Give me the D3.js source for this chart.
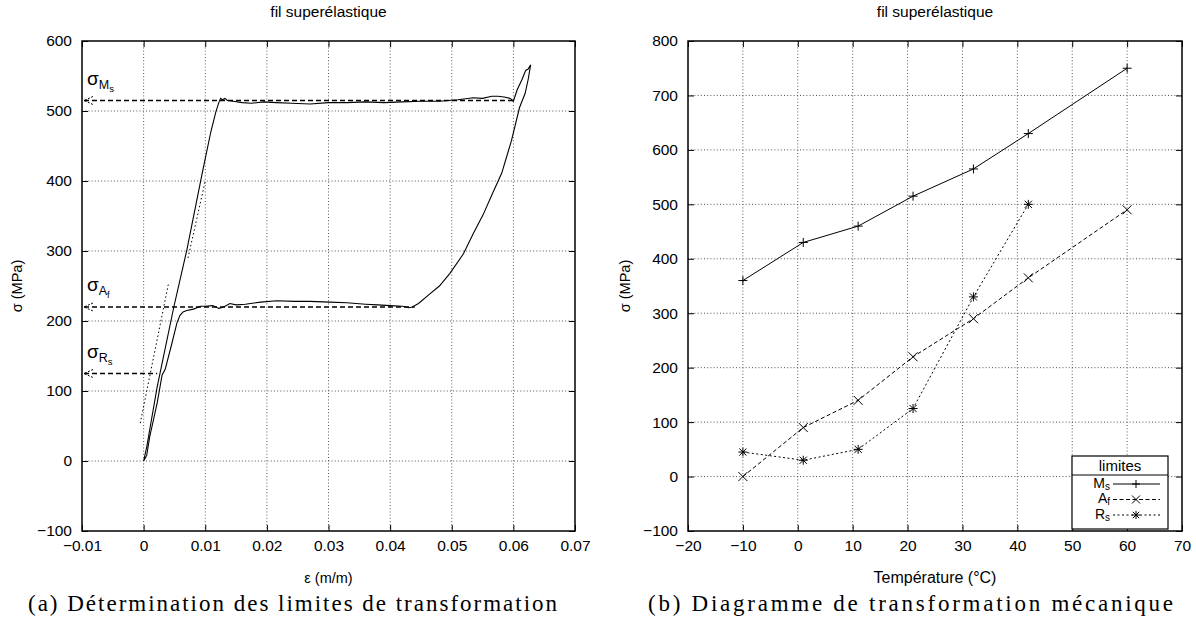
<!DOCTYPE html>
<html><head><meta charset="utf-8">
<script src="https://cdn.jsdelivr.net/npm/d3@7"></script>
<style>
body{margin:0;background:#fff}
text{font-family:"Liberation Sans",Arial,Helvetica,sans-serif;fill:#000}
.cap{font-family:"Liberation Serif","DejaVu Serif",serif}
</style>
</head><body>
<svg id="c" width="1196" height="625"></svg>
<script>
// ---------- Left chart data: stress-strain loop ----------
const loopStrain = [0,0.0005,0.0022,0.0049,0.0070,0.0095,0.0109,0.0117,0.0122,0.0125,0.0128,0.0132,0.0136,0.0145,0.0160,0.0175,0.0195,0.0215,0.0240,0.0270,0.0300,0.0330,0.0360,0.0390,0.0420,0.0450,0.0480,0.0510,0.0535,0.0550,0.0565,0.0575,0.0585,0.0595,0.0600,0.0606,0.0614,0.0620,0.0624,0.0628,
  0.0624,0.0619,0.0610,0.0597,0.0581,0.0565,0.0551,0.0535,0.0519,0.0497,0.0480,0.0465,0.0446,0.0436,0.0430,0.0420,0.0400,0.0380,0.0360,0.0330,0.0302,0.0270,0.0245,0.0216,0.0190,0.0165,0.0150,0.0140,0.0130,0.0122,0.0112,0.0100,0.0092,0.0081,0.0070,0.0064,0.0059,0.0054,0.0045,0.0035,0.0030,0.0022,0.0010,0.0005,0];
const loopStress = [0,20,106,220,301,411,470,498,512,518,516,518,515,514,512,511,513,512,511,510,512,512,513,512,513,514,514,516,519,518,521,521,520,518,514,530,545,558,560,566,
  545,525,505,458,411,380,352,325,296,268,250,239,225,220,219,221,222,223,224,226,227,228,228,229,227,224,223,225,220,218,222,221,221,217,215,213,208,197,165,131,123,83,35,8,0];
// limit levels (MPa) and the strain where each dashed line ends
const limitNames = ["Ms","Af","Rs"];
const limitStress = [515,220,125];
const limitEnd = [0.060,0.044,0.0022];
// dotted tangent lines [strain0, stress0, strain1, stress1]
const tangentA = [-0.00055,54,0.0040,252];
const tangentB = [0.0072,290,0.0100,400];
const leftXTicks = [-0.01,0,0.01,0.02,0.03,0.04,0.05,0.06,0.07];
const leftXLabels = ["\u22120.01","0","0.01","0.02","0.03","0.04","0.05","0.06","0.07"];
const leftYTicks = [-100,0,100,200,300,400,500,600];
const leftYLabels = ["\u2212100","0","100","200","300","400","500","600"];

// ---------- Right chart data ----------
const temps = [-10,1,11,21,32,42,60];
const msVals = [360,430,460,515,565,630,750];
const afVals = [0,90,140,220,290,365,490];
const rsTemps = [-10,1,11,21,32,42];
const rsVals = [45,30,50,125,330,500];
const rightXTicks = [-20,-10,0,10,20,30,40,50,60,70];
const rightXLabels = ["\u221220","\u221210","0","10","20","30","40","50","60","70"];
const rightYTicks = [-100,0,100,200,300,400,500,600,700,800];
const rightYLabels = ["\u2212100","0","100","200","300","400","500","600","700","800"];

const svg = d3.select("#c");
const FS = 15.5;

function panel(cfg){
  const g = svg.append("g");
  const x = d3.scaleLinear(cfg.xd,[cfg.x0,cfg.x1]);
  const y = d3.scaleLinear(cfg.yd,[cfg.y1,cfg.y0]);
  // grid
  g.append("g").selectAll("line").data(cfg.xt.slice(1,-1)).join("line")
    .attr("x1",d=>x(d)).attr("x2",d=>x(d)).attr("y1",cfg.y0).attr("y2",cfg.y1)
    .attr("stroke","#444").attr("stroke-width",0.9).attr("stroke-dasharray","1,2.2");
  g.append("g").selectAll("line").data(cfg.yt.slice(1,-1)).join("line")
    .attr("y1",d=>y(d)).attr("y2",d=>y(d)).attr("x1",cfg.x0).attr("x2",cfg.x1)
    .attr("stroke","#444").attr("stroke-width",0.9).attr("stroke-dasharray","1,2.2");
  // axes
  const ax = g.append("g").attr("transform",`translate(0,${cfg.y1})`)
    .call(d3.axisBottom(x).tickValues(cfg.xt).tickFormat((d,i)=>cfg.xl[i]).tickSize(-6).tickPadding(9));
  const ay = g.append("g").attr("transform",`translate(${cfg.x0},0)`)
    .call(d3.axisLeft(y).tickValues(cfg.yt).tickFormat((d,i)=>cfg.yl[i]).tickSize(-6).tickPadding(10));
  const axT = g.append("g").attr("transform",`translate(0,${cfg.y0})`)
    .call(d3.axisTop(x).tickValues(cfg.xt).tickFormat("").tickSize(-6));
  const ayR = g.append("g").attr("transform",`translate(${cfg.x1},0)`)
    .call(d3.axisRight(y).tickValues(cfg.yt).tickFormat("").tickSize(-6));
  [ax,ay,axT,ayR].forEach(a=>{a.select(".domain").remove();a.selectAll("line").attr("stroke","#000");
    a.selectAll("text").attr("font-size",FS).attr("font-family","Liberation Sans, Arial, sans-serif").attr("fill","#000");});
  // frame
  g.append("rect").attr("x",cfg.x0).attr("y",cfg.y0).attr("width",cfg.x1-cfg.x0).attr("height",cfg.y1-cfg.y0)
    .attr("fill","none").attr("stroke","#000").attr("stroke-width",1.5);
  // titles
  const cx = (cfg.x0+cfg.x1)/2;
  g.append("text").attr("x",cx).attr("y",17).attr("text-anchor","middle").attr("font-size",15.5).text("fil superélastique");
  g.append("text").attr("x",cx).attr("y",583).attr("text-anchor","middle").attr("font-size",cfg.xlfs).text(cfg.xlabel);
  g.append("text").attr("transform",`translate(${cfg.ylx},${(cfg.y0+cfg.y1)/2}) rotate(-90)`)
    .attr("text-anchor","middle").attr("font-size",14.5).text("σ (MPa)");
  g.append("text").attr("class","cap").attr("x",cfg.capX).attr("y",611).attr("font-size",23)
    .attr("textLength",cfg.capW).attr("lengthAdjust","spacing").text(cfg.caption);
  return {g,x,y};
}

// ---------- Left ----------
const L = panel({xd:[-0.01,0.07],yd:[-100,600],x0:82,x1:575,y0:41,y1:531,xt:leftXTicks,xl:leftXLabels,yt:leftYTicks,yl:leftYLabels,
  xlabel:"ε (m/m)",xlfs:14.5,ylx:22,caption:"(a) Détermination des limites de transformation",capX:28,capW:529});
const loopPts = loopStrain.map((e,i)=>[e,loopStress[i]]);
L.g.append("path").attr("d",d3.line().x(d=>L.x(d[0])).y(d=>L.y(d[1]))(loopPts))
  .attr("fill","none").attr("stroke","#000").attr("stroke-width",1.1);
[tangentA,tangentB].forEach(t=>{
  L.g.append("line").attr("x1",L.x(t[0])).attr("y1",L.y(t[1])).attr("x2",L.x(t[2])).attr("y2",L.y(t[3]))
    .attr("stroke","#000").attr("stroke-width",1).attr("stroke-dasharray","1.5,2.5");
});
const subMain = ["M","A","R"], subSub = ["s","f","s"];
limitStress.forEach((s,i)=>{
  const yy = L.y(s), x0 = L.x(-0.01);
  L.g.append("line").attr("x1",x0+2).attr("x2",L.x(limitEnd[i])).attr("y1",yy).attr("y2",yy)
    .attr("stroke","#000").attr("stroke-width",1.6).attr("stroke-dasharray","5,3");
  L.g.append("path").attr("d",`M${x0+11},${yy-4}L${x0+2},${yy}L${x0+11},${yy+4}`)
    .attr("fill","none").attr("stroke","#000").attr("stroke-width",1).attr("stroke-dasharray","2,1.5");
  const t = L.g.append("text").attr("x",x0+5).attr("y",yy-16).attr("font-size",19);
  t.append("tspan").text("σ");
  t.append("tspan").attr("font-size",12.5).attr("dy",4).text(subMain[i]);
  t.append("tspan").attr("font-size",9.5).attr("dy",3).text(subSub[i]);
});

// ---------- Right ----------
const R = panel({xd:[-20,70],yd:[-100,800],x0:688,x1:1182,y0:41,y1:531,xt:rightXTicks,xl:rightXLabels,yt:rightYTicks,yl:rightYLabels,
  xlabel:"Température (°C)",xlfs:16,ylx:630,caption:"(b) Diagramme de transformation mécanique",capX:648,capW:525});
const mk = {
  plus: s=>`M${-s},0H${s}M0,${-s}V${s}`,
  cross: s=>`M${-s},${-s}L${s},${s}M${-s},${s}L${s},${-s}`,
  star: s=>`M${-s},0H${s}M0,${-s}V${s}M${-s*0.8},${-s*0.8}L${s*0.8},${s*0.8}M${-s*0.8},${s*0.8}L${s*0.8},${-s*0.8}`
};
const series = [
  {name:"M",sub:"s",xs:temps,ys:msVals,dash:null,m:"plus"},
  {name:"A",sub:"f",xs:temps,ys:afVals,dash:"4,2.5",m:"cross"},
  {name:"R",sub:"s",xs:rsTemps,ys:rsVals,dash:"2,2.5",m:"star"}
];
series.forEach(s=>{
  const pts = s.xs.map((t,i)=>[t,s.ys[i]]);
  R.g.append("path").attr("d",d3.line().x(d=>R.x(d[0])).y(d=>R.y(d[1]))(pts))
    .attr("fill","none").attr("stroke","#000").attr("stroke-width",1).attr("stroke-dasharray",s.dash);
  R.g.append("g").selectAll("path").data(pts).join("path")
    .attr("transform",d=>`translate(${R.x(d[0])},${R.y(d[1])})`).attr("d",mk[s.m](4.5))
    .attr("stroke","#000").attr("stroke-width",1).attr("fill","none");
});
// legend
const lg = R.g.append("g");
lg.append("rect").attr("x",1072).attr("y",456).attr("width",96).attr("height",73).attr("fill","#fff").attr("stroke","#000").attr("stroke-width",1.2);
lg.append("line").attr("x1",1072).attr("x2",1168).attr("y1",475).attr("y2",475).attr("stroke","#000").attr("stroke-width",1.2);
lg.append("text").attr("x",1120).attr("y",471).attr("text-anchor","middle").attr("font-size",15).text("limites");
series.forEach((s,i)=>{
  const yy = 484 + i*15.5;
  const t = lg.append("text").attr("x",1110).attr("y",yy+3.5).attr("text-anchor","end").attr("font-size",14);
  t.append("tspan").text(s.name);
  t.append("tspan").attr("font-size",10).attr("dy",2).text(s.sub);
  lg.append("line").attr("x1",1113).attr("x2",1160).attr("y1",yy).attr("y2",yy)
    .attr("stroke",s.dash?"#000":"#555").attr("stroke-width",s.dash?1:1.6).attr("stroke-dasharray",s.dash);
  lg.append("path").attr("transform",`translate(1136,${yy})`).attr("d",mk[s.m](4)).attr("stroke","#000").attr("fill","none");
});
</script>
</body></html>
